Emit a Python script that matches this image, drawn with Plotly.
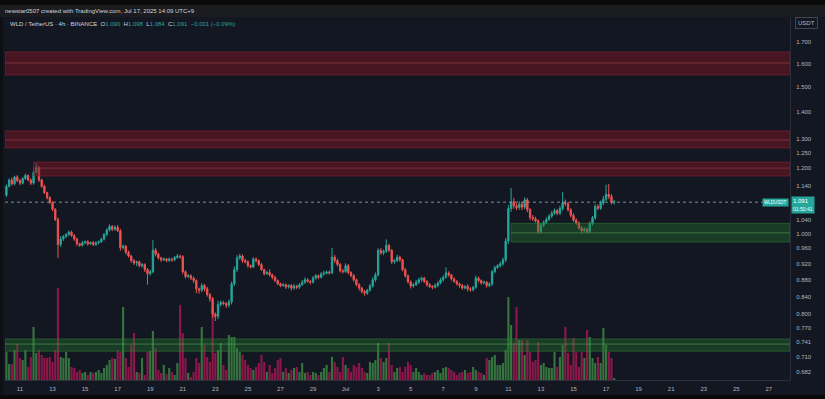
import math
import pandas as pd
import plotly.graph_objects as go

# ---------------- data (4h candles WLD/USDT) ----------------
first_open = 1.112
closes = [
    1.140, 1.160, 1.148, 1.170, 1.158,                 # Jun 10
    1.150, 1.165, 1.175, 1.160, 1.150, 1.185,          # Jun 11
    1.200, 1.160, 1.140, 1.120, 1.105, 1.090,          # Jun 12
    1.070, 1.040, 0.970, 0.985, 0.992, 0.998,          # Jun 13
    1.004, 0.995, 0.985, 0.972, 0.968, 0.975,          # Jun 14
    0.978, 0.972, 0.976, 0.970, 0.975, 0.978,          # Jun 15
    0.985, 0.998, 1.010, 1.020, 1.012, 1.018,          # Jun 16
    1.008, 0.962, 0.966, 0.950, 0.940, 0.928,          # Jun 17
    0.922, 0.925, 0.915, 0.918, 0.905, 0.895,          # Jun 18
    0.900, 0.955, 0.945, 0.935, 0.930, 0.932,          # Jun 19
    0.928, 0.932, 0.930, 0.936, 0.940, 0.938,          # Jun 20
    0.900, 0.888, 0.890, 0.884, 0.878, 0.858,          # Jun 21
    0.855, 0.866, 0.858, 0.845, 0.835, 0.800,          # Jun 22
    0.795, 0.822, 0.826, 0.824, 0.820, 0.828,          # Jun 23
    0.870, 0.905, 0.935, 0.940, 0.928, 0.925,          # Jun 24
    0.915, 0.912, 0.932, 0.928, 0.918, 0.905,          # Jun 25
    0.895, 0.898, 0.892, 0.886, 0.878, 0.870,          # Jun 26
    0.866, 0.868, 0.863, 0.866, 0.860, 0.865,          # Jun 27
    0.862, 0.868, 0.874, 0.880, 0.876, 0.874,          # Jun 28
    0.884, 0.890, 0.886, 0.894, 0.896, 0.899,          # Jun 29
    0.897, 0.937, 0.928, 0.918, 0.902, 0.900,          # Jun 30
    0.915, 0.898, 0.890, 0.880, 0.868, 0.860,          # Jul 1
    0.852, 0.848, 0.855, 0.865, 0.880, 0.892,          # Jul 2
    0.955, 0.948, 0.952, 0.968, 0.955, 0.925,          # Jul 3
    0.928, 0.937, 0.930, 0.905, 0.890, 0.875,          # Jul 4
    0.865, 0.868, 0.874, 0.880, 0.884, 0.876,          # Jul 5
    0.868, 0.864, 0.862, 0.866, 0.872, 0.880,          # Jul 6
    0.886, 0.897, 0.892, 0.882, 0.876, 0.870,          # Jul 7
    0.866, 0.860, 0.864, 0.858, 0.856, 0.862,          # Jul 8
    0.884, 0.878, 0.872, 0.874, 0.866, 0.870,          # Jul 9
    0.900, 0.910, 0.915, 0.920, 0.930, 0.980,          # Jul 10
    1.072, 1.092, 1.080, 1.075, 1.085, 1.076,          # Jul 11
    1.098, 1.068, 1.046, 1.042, 1.036, 1.006,          # Jul 12
    1.024, 1.032, 1.040, 1.050, 1.058, 1.066,          # Jul 13
    1.058, 1.072, 1.090, 1.086, 1.068, 1.052,          # Jul 14
    1.038, 1.030, 1.016, 1.008, 1.012, 1.006,          # Jul 15
    1.028, 1.045, 1.078, 1.072, 1.088, 1.100,          # Jul 16
    1.115, 1.108, 1.090, 1.091,                        # Jul 17
]
# wick lengths above / below the candle body, in thousandths of a USDT
upper_wick_milli = [
    6, 5, 8, 4, 6,
    5, 4, 6, 3, 5, 8,
    15, 6, 4, 5, 3, 4,
    4, 3, 5, 8, 4, 3,
    5, 4, 3, 4, 3, 5,
    3, 4, 2, 3, 4, 3,
    4, 3, 5, 6, 4, 5,
    6, 5, 4, 3, 4, 3,
    4, 3, 3, 4, 3, 4,
    5, 27, 6, 4, 3, 4,
    3, 4, 3, 4, 5, 3,
    4, 3, 4, 3, 4, 3,
    3, 6, 4, 5, 3, 4,
    4, 8, 5, 4, 3, 5,
    6, 8, 7, 6, 4, 5,
    4, 3, 5, 4, 3, 4,
    3, 4, 8, 3, 4, 3,
    3, 4, 3, 3, 4, 5,
    3, 4, 5, 6, 4, 3,
    5, 4, 3, 5, 6, 4,
    4, 24, 6, 5, 4, 5,
    6, 4, 3, 4, 3, 4,
    3, 4, 3, 5, 6, 6,
    5, 6, 5, 16, 4, 3,
    4, 6, 4, 3, 4, 3,
    3, 4, 6, 5, 4, 3,
    3, 4, 3, 5, 4, 5,
    5, 14, 4, 3, 4, 3,
    3, 4, 3, 5, 4, 3,
    6, 4, 3, 4, 3, 4,
    4, 5, 4, 5, 6, 8,
    10, 43, 12, 8, 9, 7,
    8, 6, 5, 7, 6, 4,
    6, 5, 6, 5, 7, 6,
    5, 8, 32, 9, 6, 5,
    6, 5, 4, 5, 6, 5,
    6, 5, 7, 6, 8, 10,
    30, 32, 8, 7,
]
lower_wick_milli = [
    5, 4, 6, 5, 4,
    6, 4, 5, 4, 6, 5,
    4, 6, 5, 4, 6, 5,
    6, 5, 35, 6, 5, 4,
    5, 4, 5, 6, 4, 3,
    4, 5, 3, 4, 3, 4,
    3, 4, 5, 4, 5, 4,
    4, 8, 5, 6, 4, 5,
    5, 8, 4, 5, 6, 27,
    5, 4, 6, 4, 5, 3,
    4, 3, 5, 4, 3, 5,
    6, 5, 4, 5, 6, 10,
    8, 5, 6, 5, 7, 8,
    10, 6, 5, 4, 6, 5,
    6, 5, 6, 5, 6, 4,
    5, 4, 3, 5, 4, 3,
    4, 3, 4, 5, 4, 3,
    4, 3, 5, 4, 6, 4,
    5, 4, 3, 4, 3, 5,
    3, 4, 5, 3, 4, 3,
    4, 3, 6, 5, 4, 5,
    3, 5, 4, 5, 4, 6,
    5, 6, 4, 3, 4, 5,
    4, 5, 6, 4, 5, 6,
    5, 4, 5, 4, 5, 4,
    6, 4, 3, 4, 5, 4,
    5, 4, 5, 3, 4, 3,
    4, 3, 5, 4, 3, 4,
    5, 4, 3, 6, 5, 4,
    4, 5, 4, 3, 5, 4,
    5, 4, 3, 4, 5, 6,
    8, 10, 9, 8, 7, 9,
    6, 7, 8, 6, 5, 6,
    5, 6, 5, 4, 6, 5,
    6, 5, 7, 6, 5, 6,
    5, 6, 5, 6, 4, 5,
    4, 5, 6, 5, 4, 6,
    5, 8, 6, 6,
]
volume_100k = [
    28, 16, 16, 30, 36,
    22, 20, 30, 13, 23, 53,
    27, 30, 25, 22, 22, 23,
    18, 30, 92, 23, 22, 28,
    22, 13, 12, 8, 10, 7,
    8, 5, 8, 7, 8, 10,
    7, 12, 15, 20, 22, 21,
    30, 28, 73, 22, 13, 35,
    47, 8, 7, 22, 5, 28,
    29, 49, 32, 10, 7, 15,
    6, 12, 8, 5, 17, 75,
    47, 22, 7, 3, 8, 22,
    17, 53, 35, 23, 18, 73,
    27, 30, 37, 15, 10, 45,
    43, 43, 32, 28, 25, 20,
    15, 12, 10, 13, 17, 25,
    18, 8, 15, 7, 12, 20,
    22, 8, 12, 7, 10, 12,
    13, 8, 17, 7, 8, 5,
    8, 7, 5, 8, 12, 15,
    8, 23, 18, 13, 8, 23,
    15, 12, 8, 15, 13, 17,
    12, 8, 7, 18, 17, 20,
    37, 22, 18, 22, 37, 15,
    8, 12, 13, 8, 13, 18,
    15, 8, 12, 8, 5, 7,
    5, 5, 7, 8, 10, 7,
    12, 13, 12, 10, 8, 5,
    7, 8, 10, 7, 8, 13,
    10, 8, 7, 5, 22, 20,
    23, 25, 15, 15, 17, 30,
    83, 55, 37, 73, 40, 40,
    25, 40, 28, 18, 20, 38,
    15, 17, 13, 12, 12, 28,
    13, 23, 35, 53, 27, 15,
    42, 28, 13, 28, 22, 50,
    43, 22, 17, 23, 17, 52,
    35, 28, 22, 2,
]
first_candle_time = "2025-06-10 04:00"

x_tick_dates = ["2025-06-11", "2025-06-13", "2025-06-15", "2025-06-17", "2025-06-19",
                "2025-06-21", "2025-06-23", "2025-06-25", "2025-06-27", "2025-06-29",
                "2025-07-01", "2025-07-03", "2025-07-05", "2025-07-07", "2025-07-09",
                "2025-07-11", "2025-07-13", "2025-07-15", "2025-07-17", "2025-07-19",
                "2025-07-21", "2025-07-23", "2025-07-25", "2025-07-27"]
x_tick_labels = ["11", "13", "15", "17", "19", "21", "23", "25", "27", "29", "Jul",
                 "3", "5", "7", "9", "11", "13", "15", "17", "19", "21", "23", "25", "27"]
y_tick_values = [1.700, 1.600, 1.500, 1.400, 1.300, 1.250, 1.200, 1.140, 1.040, 1.000,
                 0.960, 0.920, 0.880, 0.840, 0.800, 0.770, 0.741, 0.710, 0.682]
y_tick_labels = ["1.700", "1.600", "1.500", "1.400", "1.300", "1.250", "1.200", "1.140",
                 "1.040", "1.000", "0.960", "0.920", "0.880", "0.840", "0.800", "0.770",
                 "0.741", "0.710", "0.682"]

# supply (red) and demand (green) zones
view_start = "2025-06-10 01:55"
view_end = "2025-07-28 07:10"
red_zone_start = [view_start, view_start, "2025-06-11 20:00"]
red_zone_low = [1.552, 1.268, 1.173]
red_zone_high = [1.654, 1.329, 1.219]
red_zone_mid = [1.604, 1.296, 1.199]
green_zone_start = ["2025-07-11 04:00", view_start]
green_zone_low = [0.977, 0.722]
green_zone_high = [1.029, 0.747]
green_zone_mid = [1.002, 0.7365]

last_price = 1.091
last_price_text = "1.091"
countdown_text = "01:50:41"

# ---------------- styling ----------------
BG = "#131722"
UP = "#26a69a"
DOWN = "#ef5350"
VOL_UP = "rgba(76,175,80,0.62)"
VOL_DOWN = "rgba(194,24,91,0.70)"
TXT = "#b2b5be"
FONT = "Liberation Sans"

times = pd.date_range(first_candle_time, periods=len(closes), freq="4h")
opens = [first_open] + closes[:-1]
highs = [max(o, c) + u / 1000 for o, c, u in zip(opens, closes, upper_wick_milli)]
lows = [min(o, c) - w / 1000 for o, c, w in zip(opens, closes, lower_wick_milli)]
vol_colors = [VOL_UP if c >= o else VOL_DOWN for o, c in zip(opens, closes)]

fig = go.Figure()

# volume on the base (hidden) axis so price layers are drawn on top of it
fig.add_trace(go.Bar(x=times, y=volume_100k, marker=dict(color=vol_colors, line=dict(width=0)),
                     yaxis="y", hoverinfo="skip", showlegend=False))


def add_zone(x0, lo, hi, mid, fill, edge, midc):
    fig.add_trace(go.Scatter(x=[x0, view_end, view_end, x0, x0], y=[lo, lo, hi, hi, lo],
                             mode="lines", fill="toself", fillcolor=fill,
                             line=dict(color=edge, width=1), yaxis="y2",
                             hoverinfo="skip", showlegend=False))
    fig.add_trace(go.Scatter(x=[x0, view_end], y=[mid, mid], mode="lines",
                             line=dict(color=midc, width=1), yaxis="y2",
                             hoverinfo="skip", showlegend=False))


for x0, lo, hi, mid in zip(red_zone_start, red_zone_low, red_zone_high, red_zone_mid):
    add_zone(x0, lo, hi, mid, "rgba(125,22,36,0.50)", "rgba(150,35,50,0.55)", "rgba(190,75,85,0.45)")
for x0, lo, hi, mid in zip(green_zone_start, green_zone_low, green_zone_high, green_zone_mid):
    add_zone(x0, lo, hi, mid, "rgba(35,120,45,0.38)", "rgba(55,140,65,0.45)", "rgba(110,190,110,0.45)")

# last price dotted line
fig.add_trace(go.Scatter(x=[view_start, view_end], y=[last_price, last_price], mode="lines",
                         line=dict(color="#6f9aa0", width=1, dash="dot"), yaxis="y2",
                         hoverinfo="skip", showlegend=False))

fig.add_trace(go.Candlestick(x=times, open=opens, high=highs, low=lows, close=closes,
                             increasing=dict(line=dict(color=UP, width=1), fillcolor=UP),
                             decreasing=dict(line=dict(color=DOWN, width=1), fillcolor=DOWN),
                             whiskerwidth=0, yaxis="y2", hoverinfo="skip", showlegend=False))

# ---------------- layout ----------------
W, H = 825, 399
ML, MR, MT, MB = 5, 35, 17, 19
PW, PH = W - ML - MR, H - MT - MB


def px_x(px):
    return (px - ML) / PW


def px_y(py):
    return (H - MB - py) / PH


log_bottom = math.log10(0.6667)
log_top = math.log10(1.822)

fig.update_layout(
    width=W, height=H, margin=dict(l=ML, r=MR, t=MT, b=MB),
    paper_bgcolor=BG, plot_bgcolor=BG, showlegend=False,
    bargap=0.22, font=dict(family=FONT, color=TXT, size=6),
    xaxis=dict(type="date", range=[view_start, view_end], tickmode="array",
               tickvals=x_tick_dates, ticktext=x_tick_labels, showgrid=False, zeroline=False,
               showline=True, linecolor="#2a2e39", ticks="outside", ticklen=3,
               tickcolor=BG, tickfont=dict(size=6, color=TXT, family=FONT),
               rangeslider=dict(visible=False), fixedrange=True),
    yaxis=dict(range=[0, PH], visible=False, fixedrange=True),
    yaxis2=dict(type="log", overlaying="y", side="right", range=[log_bottom, log_top],
                tickmode="array", tickvals=y_tick_values, ticktext=y_tick_labels,
                showgrid=False, zeroline=False, showline=True, linecolor="#2a2e39",
                ticks="outside", ticklen=4, tickcolor=BG,
                tickfont=dict(size=6, color=TXT, family=FONT), fixedrange=True),
)

shapes = [
    # header bars above the chart panel
    dict(type="rect", xref="paper", yref="paper", x0=px_x(0), x1=px_x(W), y0=px_y(17), y1=px_y(0),
         fillcolor="#1b1c20", line=dict(width=0), layer="above"),
    dict(type="rect", xref="paper", yref="paper", x0=px_x(0), x1=px_x(W), y0=px_y(5), y1=px_y(0),
         fillcolor="#0a0a0b", line=dict(width=0), layer="above"),
    dict(type="rect", xref="paper", yref="paper", x0=px_x(0), x1=px_x(W), y0=px_y(H), y1=px_y(395),
         fillcolor="#0a0a0b", line=dict(width=0), layer="above"),
    dict(type="rect", xref="paper", yref="paper", x0=px_x(0), x1=px_x(3), y0=px_y(395), y1=px_y(17),
         fillcolor="#0d0f15", line=dict(width=0), layer="above"),
]
fig.update_layout(shapes=shapes)

teal_val = lambda s: f"<span style='color:{UP}'>{s}</span>"
annotations = [
    dict(xref="paper", yref="paper", x=px_x(3), y=px_y(11), xanchor="left", yanchor="middle",
         showarrow=False, text="newstar0507 created with TradingView.com, Jul 17, 2025 14:09 UTC+9",
         font=dict(size=6, color="#d1d4dc", family=FONT)),
    dict(xref="paper", yref="paper", x=px_x(8), y=px_y(24), xanchor="left", yanchor="middle",
         showarrow=False,
         text=("WLD / TetherUS · 4h · BINANCE  O" + teal_val("1.090") + "  H" + teal_val("1.098")
               + "  L" + teal_val("1.084") + "  C" + teal_val("1.091") + "  "
               + teal_val("−0.001 (−0.09%)")),
         font=dict(size=6, color="#d1d4dc", family=FONT)),
    dict(xref="paper", yref="paper", x=px_x(795), y=px_y(23), xanchor="left", yanchor="middle",
         showarrow=False, text="USDT", bgcolor=BG, bordercolor="#434651", borderwidth=1,
         borderpad=2, font=dict(size=6, color=TXT, family=FONT)),
    dict(xref="paper", yref="y2", x=px_x(791), y=math.log10(last_price), xanchor="left",
         yanchor="top", yshift=6, showarrow=False, align="left",
         text=f"{last_price_text}<br><span style='font-size:5px'>{countdown_text}</span>",
         bgcolor=UP, borderpad=1, font=dict(size=6, color="#ffffff", family=FONT)),
    dict(xref="paper", yref="y2", x=px_x(789), y=math.log10(last_price), xanchor="right",
         yanchor="middle", showarrow=False, text="WLDUSDT", bgcolor=UP, borderpad=1,
         font=dict(size=4.5, color="#ffffff", family=FONT)),
]
fig.update_layout(annotations=annotations)

fig.write_html("out.html")
